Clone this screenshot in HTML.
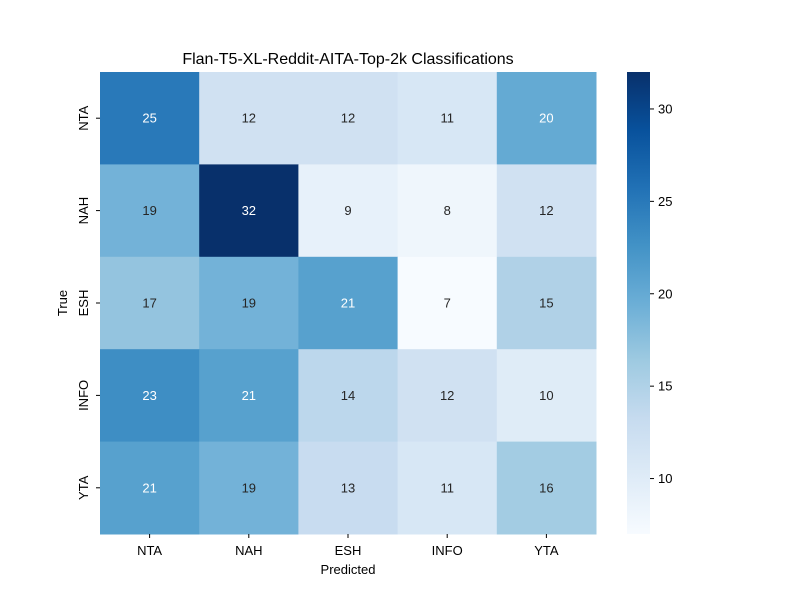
<!DOCTYPE html>
<html><head><meta charset="utf-8"><style>
body{margin:0;background:#fff;}
svg text{font-family:"Liberation Sans","DejaVu Sans",sans-serif;}
</style></head><body>
<svg id="chart" width="800" height="600"></svg>
<script>
const rowLabels=["NTA","NAH","ESH","INFO","YTA"];
const colLabels=["NTA","NAH","ESH","INFO","YTA"];
const values=[
[25,12,12,11,20],
[19,32,9,8,12],
[17,19,21,7,15],
[23,21,14,12,10],
[21,19,13,11,16]];
const cbTicks=[10,15,20,25,30];
const vmin=7,vmax=32;

const NS="http://www.w3.org/2000/svg";
const svg=document.getElementById('chart');
const L=100,T=72,W=496,H=462;
const cw=W/colLabels.length,ch=H/rowLabels.length;
const stops=["#f7fbff","#deebf7","#c6dbef","#9ecae1","#6baed6","#4292c6","#2171b5","#08519c","#08306b"].map(h=>[parseInt(h.substr(1,2),16),parseInt(h.substr(3,2),16),parseInt(h.substr(5,2),16)]);
function color(v){let t=Math.max(0,Math.min(1,(v-vmin)/(vmax-vmin)))*8;let i=Math.min(7,Math.floor(t)),f=t-i;
const c=stops[i].map((a,k)=>Math.round(a+(stops[i+1][k]-a)*f));return `rgb(${c})`;}
function el(tag,attrs,txt){const e=document.createElementNS(NS,tag);for(const k in attrs)e.setAttribute(k,attrs[k]);if(txt!=null)e.textContent=txt;svg.appendChild(e);return e;}
function xS(j){return L+j*cw;}
function yS(i){return T+i*ch;}

let t=el('text',{x:348,y:64,'text-anchor':'middle','font-size':16,fill:'#000'},"Flan-T5-XL-Reddit-AITA-Top-2k Classifications");



values.forEach((row,i)=>row.forEach((v,j)=>{
 const r=el('rect',{x:xS(j),y:yS(i),width:cw+0.5,height:ch+0.5,fill:color(v)});
 
 
 const tx=el('text',{x:xS(j)+cw/2,y:yS(i)+ch/2+4.5,'text-anchor':'middle','font-size':13,fill:v>=20?'#fff':'#262626'},v);
 
 
}));

colLabels.forEach((c,j)=>{
 el('line',{x1:xS(j)+cw/2,x2:xS(j)+cw/2,y1:T+H,y2:T+H+4,stroke:'#000'});
 const tx=el('text',{x:xS(j)+cw/2,y:T+H+21,'text-anchor':'middle','font-size':13},c);
 
 
});
rowLabels.forEach((r,i)=>{
 const y=yS(i)+ch/2;
 el('line',{x1:L-4,x2:L,y1:y,y2:y,stroke:'#000'});
 const tx=el('text',{x:0,y:0,'text-anchor':'middle','font-size':13,transform:`translate(88,${y}) rotate(-90)`},r);
 
 
});
t=el('text',{x:348,y:574,'text-anchor':'middle','font-size':13},"Predicted");


t=el('text',{x:0,y:0,'text-anchor':'middle','font-size':13,transform:'translate(67,303) rotate(-90)'},"True");



// colorbar
const cbX=627,cbW=23;
const defs=el('defs',{});
const g=document.createElementNS(NS,'linearGradient');g.setAttribute('id','cbg');g.setAttribute('x1','0');g.setAttribute('y1','1');g.setAttribute('x2','0');g.setAttribute('y2','0');
for(let k=0;k<=8;k++){const s=document.createElementNS(NS,'stop');s.setAttribute('offset',k/8);s.setAttribute('stop-color',color(vmin+(vmax-vmin)*k/8));g.appendChild(s);}
defs.appendChild(g);
const cb=el('rect',{x:cbX,y:T,width:cbW,height:H,fill:'url(#cbg)'});


function cbY(v){return T+H-(v-vmin)/(vmax-vmin)*H;}
cbTicks.forEach(v=>{
 const y=cbY(v);
 el('line',{x1:cbX+cbW,x2:cbX+cbW+4,y1:y,y2:y,stroke:'#000'});
 const tx=el('text',{x:cbX+cbW+8,y:y+4.5,'font-size':13},v);
 
 
});
</script>
</body></html>
